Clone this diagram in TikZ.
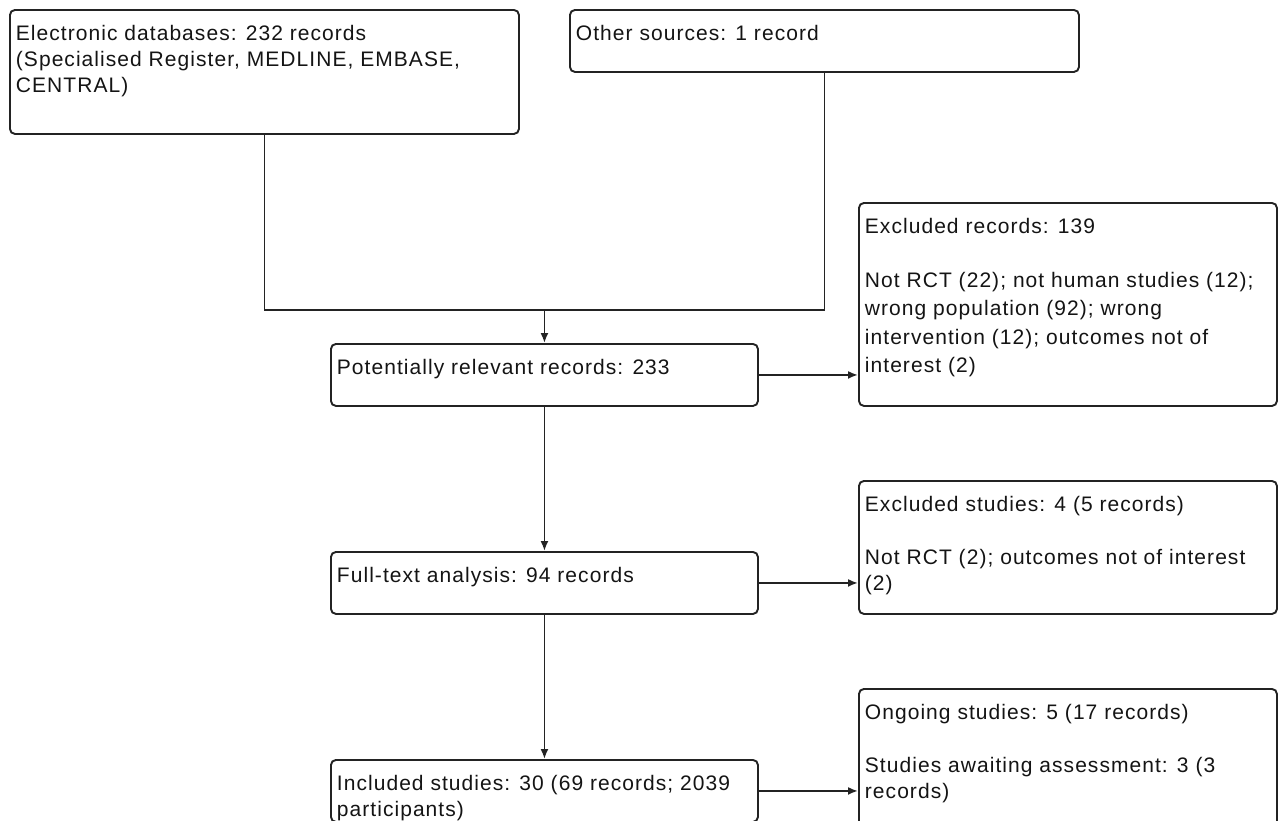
\documentclass[tikz,border=0pt]{standalone}
\usepackage{fontspec}
\setmainfont{Liberation Sans}[LetterSpace=5]
\usetikzlibrary{arrows.meta,calc}
\definecolor{ink}{RGB}{20,20,20}
\definecolor{edge}{RGB}{35,35,35}
\newcommand{\bxt}[4][26]{\parbox[t][#3][t]{#2}{\fontsize{21}{#1}\selectfont\leftskip=6pt\rightskip=0pt plus 1fil\parindent=0pt\parfillskip=0pt plus 1fil\vspace*{\dimexpr30.5pt-.7\baselineskip\relax}\strut #4}}
\newcommand{\pgap}{\par\vspace{27.5pt}}
\begin{document}
\begin{tikzpicture}[x=1pt,y=-1pt,
  flowbox/.style={draw=edge,line width=1.9pt,rounded corners=5pt,inner sep=0pt,anchor=north west,text=ink,fill=white},
  arr/.style={draw=edge,line width=1.9pt,-{Latex[length=10pt,width=8pt]}},
  conn/.style={draw=edge,line width=1.9pt}]
\useasboundingbox (0,0) rectangle (1284,820);
\clip (0,0) rectangle (1284,820);
\fill[white] (0,0) rectangle (1284,820);
\node[flowbox] (A) at (9,9) {\bxt{509pt}{124pt}{Electronic databases: 232 records\\(Specialised Register, MEDLINE, EMBASE,\\CENTRAL)}};
\node[flowbox] (B) at (569,9) {\bxt{509pt}{62pt}{Other sources: 1 record}};
\node[flowbox] (C) at (330,343) {\bxt{427pt}{62pt}{Potentially relevant records: 233}};
\node[flowbox] (D) at (858,202) {\bxt[28.5]{418pt}{203pt}{Excluded records: 139\par\vspace{25.5pt}Not RCT (22); not human studies (12);\\wrong population (92); wrong\\intervention (12); outcomes not of\\interest (2)}};
\node[flowbox] (E) at (330,551) {\bxt{427pt}{62pt}{Full-text analysis: 94 records}};
\node[flowbox] (F) at (858,480) {\bxt{418pt}{133pt}{Excluded studies: 4 (5 records)\pgap Not RCT (2); outcomes not of interest\\(2)}};
\node[flowbox] (G) at (330,759) {\bxt{427pt}{62pt}{Included studies: 30 (69 records; 2039\\participants)}};
\node[flowbox] (H) at (858,688) {\bxt{418pt}{200pt}{Ongoing studies: 5 (17 records)\pgap Studies awaiting assessment: 3 (3\\records)}};
\coordinate (m) at (C.north |- 0,310);
\draw[conn] (A.south) |- (m) -| (B.south);
\draw[arr] (m) -- (C.north);
\draw[arr] (C.south) -- (E.north);
\draw[arr] (E.south) -- (G.north);
\draw[arr] (C.east) -- (C.east -| D.west);
\draw[arr] (E.east) -- (E.east -| F.west);
\draw[arr] (G.east) -- (G.east -| H.west);
\end{tikzpicture}
\end{document}
